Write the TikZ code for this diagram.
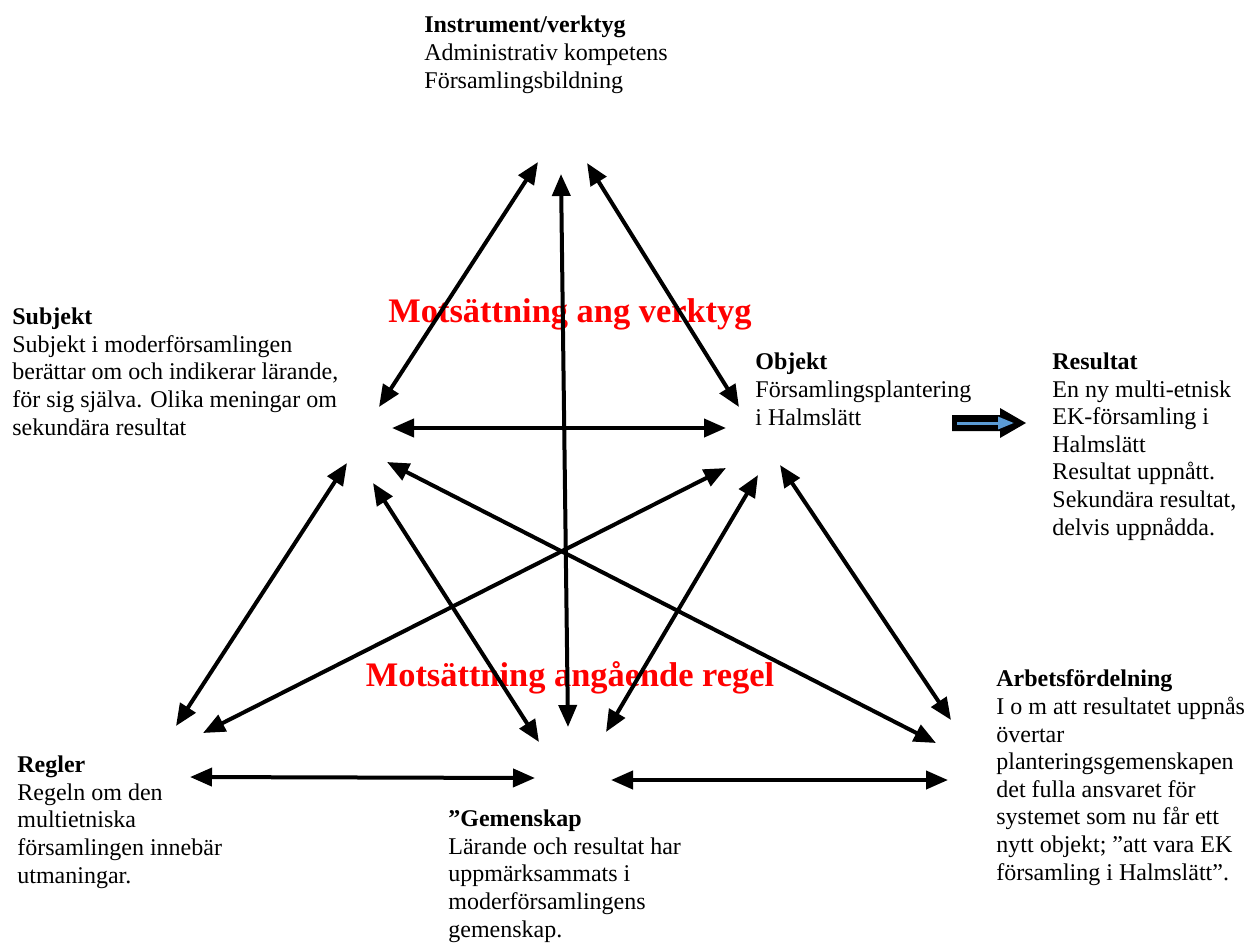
\documentclass[tikz,border=0pt]{standalone}
\usepackage{fontspec}
\setmainfont{Liberation Serif}
\usetikzlibrary{arrows.meta}
\definecolor{motred}{RGB}{255,0,0}
\definecolor{resblue}{RGB}{91,155,213}

\begin{document}
\begin{tikzpicture}[x=0.5pt,y=-0.5pt,
    txt/.style={anchor=base west, align=left, inner sep=0pt, font=\fontsize{12}{13.8}\selectfont},
    mot/.style={anchor=base, inner sep=0pt, text=motred, font=\fontsize{17.2}{20}\selectfont\bfseries},
    dbl/.style={line width=2pt, {Triangle[length=11pt,width=9pt]}-{Triangle[length=11pt,width=9pt]}}]

            \useasboundingbox (0,0) rectangle (1247,943);

            % Text of the corners (placed by the baseline of the last line)
            \node[txt] (instr) at (424,88) {\textbf{Instrument/verktyg}\\Administrativ kompetens\\Församlingsbildning};
            \node[txt] (subj) at (12,435) {\textbf{Subjekt}\\Subjekt i moderförsamlingen\\berättar om och indikerar lärande,\\för sig själva. Olika meningar om\\sekundära resultat};
            \node[txt] (obj) at (755,425) {\textbf{Objekt}\\Församlingsplantering\\i Halmslätt};
            \node[txt] (res) at (1052,535) {\textbf{Resultat}\\En ny multi-etnisk\\EK-församling i\\Halmslätt\\Resultat uppnått.\\Sekundära resultat,\\delvis uppnådda.};
            \node[txt] (arb) at (996,880) {\textbf{Arbetsfördelning}\\I o m att resultatet uppnås\\övertar\\planteringsgemenskapen\\det fulla ansvaret för\\systemet som nu får ett\\nytt objekt; ”att vara EK\\församling i Halmslätt”.};
            \node[txt] (regler) at (17,883) {\textbf{Regler}\\Regeln om den\\multietniska\\församlingen innebär\\utmaningar.};
            \node[txt] (gem) at (448,937) {\textbf{”Gemenskap}\\Lärande och resultat har\\uppmärksammats i\\moderförsamlingens\\gemenskap.};

            % Contradictions in red
            \node[mot] (mots1) at (570,322) {Motsättning ang verktyg};
            \node[mot] (mots2) at (570,686) {Motsättning angående regel};

            % Ends of the arrows
            \coordinate (s-i) at (379,407); \coordinate (i-s) at (538,162);
            \coordinate (i-o) at (587,163); \coordinate (o-i) at (739,407);
            \coordinate (i-g) at (561,174); \coordinate (g-i) at (568,727);
            \coordinate (s-o) at (392,428); \coordinate (o-s) at (726,428);
            \coordinate (s-r) at (347,463); \coordinate (r-s) at (176,726);
            \coordinate (r-o) at (203,733); \coordinate (o-r) at (726,468);
            \coordinate (s-a) at (387,462); \coordinate (a-s) at (936,743);
            \coordinate (s-g) at (373,483); \coordinate (g-s) at (539,742);
            \coordinate (o-g) at (758,475); \coordinate (g-o) at (606,732);
            \coordinate (o-a) at (780,465); \coordinate (a-o) at (951,720);
            \coordinate (r-g) at (190,777); \coordinate (g-r) at (535,778);
            \coordinate (g-a) at (611,780); \coordinate (a-g) at (948,780);

            \foreach \p/\q in {s-i/i-s, i-o/o-i, i-g/g-i, s-o/o-s, s-r/r-s, r-o/o-r,
                               s-a/a-s, s-g/g-s, o-g/g-o, o-a/a-o, r-g/g-r, g-a/a-g}
              \draw[dbl] (\p) -- (\q);

            % Block arrow towards the result
            \fill[black] (952,415) -- (1000,415) -- (1000,408) -- (1026,423) -- (1000,438) -- (1000,431) -- (952,431) -- cycle;
            \draw[resblue, line width=1.5pt, -{Triangle[length=8pt,width=6pt]}] (957,423) -- (1014,423);
        \end{tikzpicture}
\end{document}
